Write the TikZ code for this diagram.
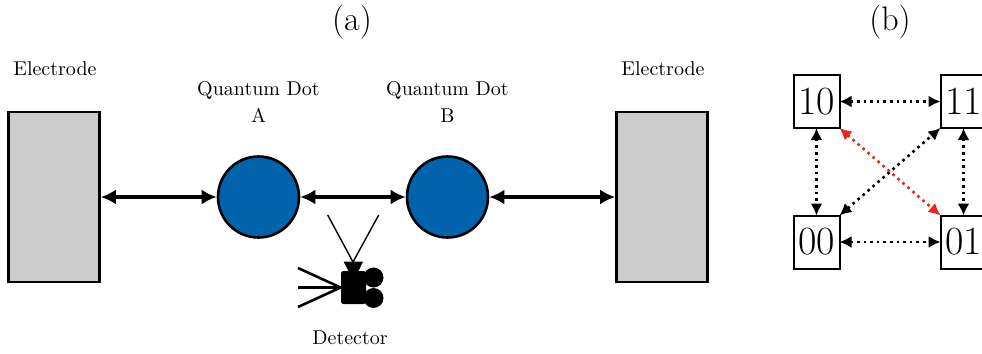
\documentclass[tikz,border=0pt]{standalone}
\usepackage{amsmath,amssymb}
\usepackage{tikz}
\usetikzlibrary{arrows.meta, positioning, shapes.geometric}
\definecolor{dotblue}{RGB}{0,99,171}
\definecolor{hopred}{RGB}{232,37,26}

\begin{document}
\begin{tikzpicture}[ x=0.5pt, y=-0.5pt, electrode/.style={rectangle, draw=black,
      fill=black!20, line width=1.3pt, inner sep=0pt, minimum width=45.5pt,
      minimum height=85pt}, qdot/.style={circle, draw=black, fill=dotblue,
      line width=1.3pt, inner sep=0pt, minimum size=40.5pt},
      tunnel/.style={line width=1.7pt, black, {Latex[length=7.5pt,width=7.5pt]}-{Latex[length=7.5pt,width=7.5pt]}},
      hop/.style={line width=1.3pt, dotted, black, {Latex[length=6pt,width=6pt]}-{Latex[length=6pt,width=6pt]}},
      state/.style={rectangle, draw=black, fill=white, line width=1pt, outer sep=0pt,
      inner sep=0pt, minimum width=23pt, minimum height=26.5pt,
      font=\fontsize{20pt}{22pt}\selectfont},
      toplabel/.style={font=\fontsize{17pt}{20pt}\selectfont},
      smalllabel/.style={font=\fontsize{10pt}{13.5pt}\selectfont, align=center},
      reel/.style={circle, fill=black, inner sep=0pt, minimum size=10pt} ]
    \useasboundingbox (0,0) rectangle (982,354);

    % Panel labels
    \node[toplabel] (panela) at (352,22) {(a)}; \node[toplabel] (panelb) at
    (890,22) {(b)};

    % Electrodes and dots
    \node[electrode] (elecl) at (54,197) {}; \node[electrode] (elecr) at (662,197)
    {}; \node[qdot] (dota) at (258.5,197) {}; \node[qdot] (dotb) at (447.5,197) {};

    % Labels above them
    \node[smalllabel] (eleclabell) at (55,69) {Electrode}; \node[smalllabel]
    (eleclabelr) at (663,69) {Electrode}; \node[smalllabel] (dotlabela) at
    (258.5,102) {Quantum Dot\\A}; \node[smalllabel] (dotlabelb) at (447.5,102)
    {Quantum Dot\\B};

    % Tunnelling arrows
    \draw[tunnel] (elecl) -- (dota); \draw[tunnel] (dota) -- (dotb);
    \draw[tunnel] (dotb) -- (elecr);

    % Detector
    \node[rectangle, rounded corners=1.2pt, fill=black, inner sep=0pt, minimum
    width=12.5pt, minimum height=16.5pt] (cam) at (353.5,287.5) {};
    \node[reel] (reelt) at (373.5,277.5) {}; \node[reel] (reelb) at (373.5,298) {};
    \coordinate (viewl) at (327.7,215); \coordinate (viewr) at (378.7,215);
    \coordinate (viewtip) at (353,262);
    \coordinate (lensa) at (298,268); \coordinate (lensb) at (298,287.5);
    \coordinate (lensc) at (298,307);
    \fill (343.5,261.5) -- (363,261.5) -- (358,272) -- (349,272) -- cycle;
    \draw[line width=0.7pt] (viewl) -- (viewtip) -- (viewr);
    \draw[line width=1.3pt] (lensa) -- (cam.west); \draw[line width=1.3pt] (lensb)
    -- (cam.west); \draw[line width=1.3pt] (lensc) -- (cam.west);
    \node[smalllabel] (detlabel) at (350,338) {Detector};

    % State boxes
    \node[state] (s10) at (816.5,101.5) {10}; \node[state] (s11) at (963.5,101.5)
    {11}; \node[state] (s00) at (816.5,242) {00}; \node[state] (s01) at (963.5,242)
    {01};

    % Transitions
    \draw[hop] (s10) -- (s11); \draw[hop] (s00) -- (s01); \draw[hop] (s10) --
    (s00); \draw[hop] (s11) -- (s01);
    \draw[hop] (s00.north east) -- (s11.south west);
    \draw[hop, hopred] (s10.south east) -- (s01.north west);

    \end{tikzpicture}
\end{document}
